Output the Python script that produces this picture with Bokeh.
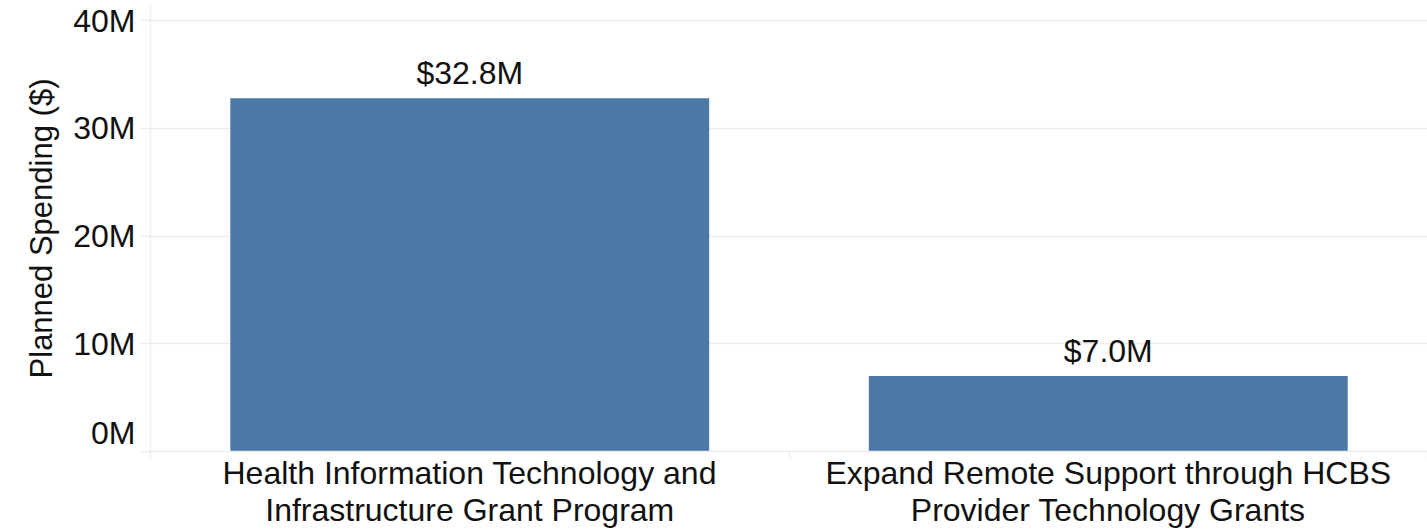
from bokeh.plotting import figure
from bokeh.models import ColumnDataSource, FixedTicker, Range1d, LabelSet
from bokeh.core.properties import value
from bokeh.embed import file_html
from bokeh.resources import INLINE

categories = ["Health Information Technology and\nInfrastructure Grant Program",
              "Expand Remote Support through HCBS\nProvider Technology Grants"]
values = [32.8, 7.0]          # millions of dollars
value_labels = ["$32.8M", "$7.0M"]
y_ticks = [0, 10, 20, 30, 40]
y_tick_labels = ["0M", "10M", "20M", "30M", "40M"]

FONT = "Liberation Sans"
BAR = "#4e79a7"
GRID = "#eeeeee"
TXT = "#111111"

xpos = [i + 0.5 for i in range(len(categories))]
src = ColumnDataSource(dict(x=xpos, top=values, label=value_labels))

p = figure(width=1427, height=531, output_backend="svg", toolbar_location=None,
           x_range=Range1d(0, len(categories)), y_range=Range1d(0, 41.4),
           min_border_left=150, min_border_right=0, min_border_top=5,
           min_border_bottom=70)
p.outline_line_color = None
p.background_fill_color = "white"
p.border_fill_color = "white"

p.vbar(x="x", top="top", bottom=0, width=0.75, source=src,
       fill_color=BAR, line_color=None)

labels = LabelSet(x="x", y="top", text="label", source=src,
                  text_align="center", text_baseline="alphabetic",
                  y_offset=14, text_font=value(FONT), text_font_size="32px",
                  text_color=TXT)
p.add_layout(labels)

# x axis
p.xaxis.ticker = FixedTicker(ticks=xpos, minor_ticks=[0, 1, 2])
p.xaxis.major_label_overrides = {x: c for x, c in zip(xpos, categories)}
p.xaxis.major_tick_out = 0
p.xaxis.major_tick_in = 0
p.xaxis.minor_tick_out = 7
p.xaxis.minor_tick_in = 0
p.xaxis.minor_tick_line_color = GRID
p.xaxis.minor_tick_line_width = 1.5
p.xaxis.axis_line_color = GRID
p.xaxis.axis_line_width = 1.5
p.xaxis.major_label_text_font = FONT
p.xaxis.major_label_text_font_size = "32px"
p.xaxis.major_label_text_line_height = 1.05
p.xaxis.major_label_text_color = TXT
p.xaxis.major_label_standoff = -4
p.xgrid.grid_line_color = None

# y axis (the bottom label sits flush above the baseline, as in the source:
# an empty second line lifts it by half a line)
p.yaxis.ticker = FixedTicker(ticks=y_ticks)
overrides = {t: l for t, l in zip(y_ticks, y_tick_labels)}
overrides[y_ticks[0]] = y_tick_labels[0] + "\n "
p.yaxis.major_label_overrides = overrides
p.yaxis.major_tick_out = 10
p.yaxis.major_tick_in = 0
p.yaxis.major_tick_line_color = GRID
p.yaxis.major_tick_line_width = 1.5
p.yaxis.minor_tick_line_color = None
p.yaxis.axis_line_color = GRID
p.yaxis.axis_line_width = 1.5
p.yaxis.major_label_text_font = FONT
p.yaxis.major_label_text_font_size = "32px"
p.yaxis.major_label_text_line_height = 1.05
p.yaxis.major_label_text_color = TXT
p.yaxis.major_label_standoff = 5
p.yaxis.axis_label = "Planned Spending ($)"
p.yaxis.axis_label_text_font = FONT
p.yaxis.axis_label_text_font_size = "31px"
p.yaxis.axis_label_text_font_style = "normal"
p.yaxis.axis_label_text_color = TXT
p.yaxis.axis_label_standoff = 11
p.ygrid.grid_line_color = GRID
p.ygrid.grid_line_width = 1.5

open("out.html", "w").write(file_html(p, INLINE))
